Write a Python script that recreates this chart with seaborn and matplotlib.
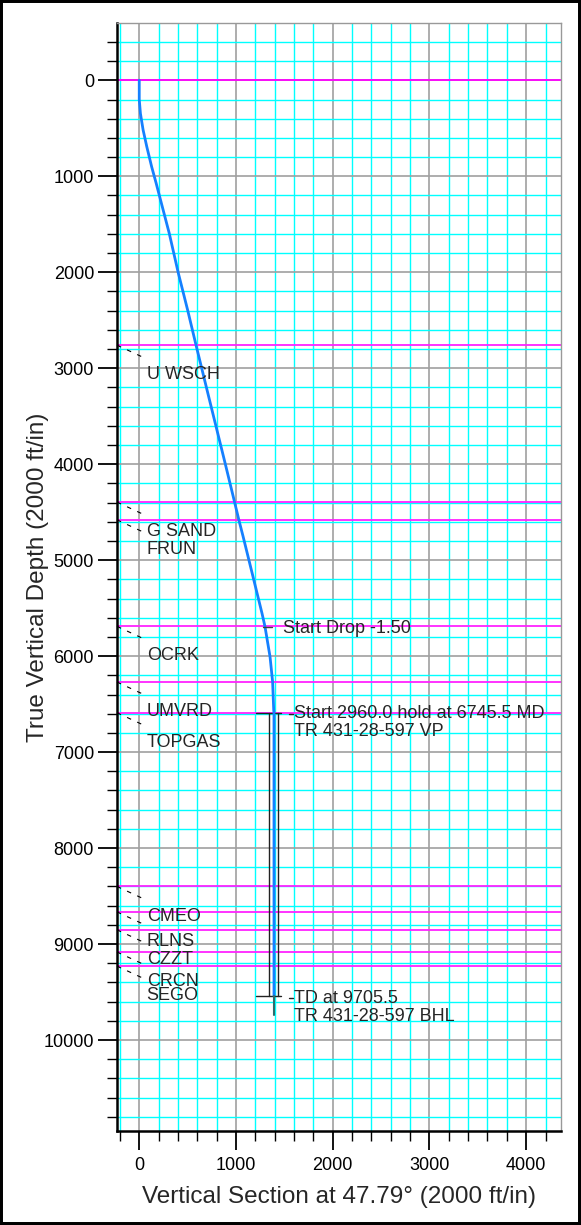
import matplotlib
matplotlib.use("Agg")
import matplotlib.pyplot as plt
import seaborn as sns
import numpy as np
import pandas as pd
from matplotlib.ticker import MultipleLocator
from matplotlib.patches import Rectangle

sns.set_style("white")
plt.rcParams['font.family'] = ['Liberation Sans', 'DejaVu Sans']

# ---------------- data ----------------
well_vs = [0, 0, 12, 40, 78, 128, 175, 220, 310, 403, 500, 591, 718, 803, 888, 972,
           1030, 1074, 1176, 1269, 1300, 1352, 1379, 1390, 1393, 1393]
well_tvd = [0, 200, 345, 518, 692, 900, 1073, 1247, 1594, 2005, 2393, 2776, 3297, 3644,
            3991, 4339, 4582, 4755, 5172, 5554, 5693, 6006, 6270, 6562, 6590, 9540]

formation_names = ['U WSCH', 'G SAND', 'FRUN', 'OCRK', 'UMVRD', 'TOPGAS',
                   'CMEO', 'RLNS', 'CZZT', 'CRCN', 'SEGO']
formation_tvd = [2760, 4395, 4580, 5690, 6270, 6590, 8400, 8665, 8852, 9083, 9230]
reference_tvd = [0]

drop_label = 'Start Drop -1.50'
drop_vs, drop_tvd = 1300, 5693

hold_label = 'Start 2960.0 hold at 6745.5 MD'
td_label = 'TD at 9705.5'
target_names = ['TR 431-28-597 VP', 'TR 431-28-597 BHL']
target_tvd = [6590, 9540]
target_vs_min, target_vs_max = 1206, 1466
target_side_vs = [1341, 1437]
td_extension_tvd = [9540, 9740]
td_vs = 1393

x_ticks = [0, 1000, 2000, 3000, 4000]
y_ticks = list(range(0, 10001, 1000))

# ---------------- figure ----------------
W, H = 581, 1225
fig = plt.figure(figsize=(W / 100, H / 100), dpi=100)
ax_l, ax_r, ax_t, ax_b = 117, 561, 23.3, 1131
ax = fig.add_axes([ax_l / W, 1 - ax_b / H, (ax_r - ax_l) / W, (ax_b - ax_t) / H])

xmin, xmax = -230, 4360
ymin, ymax = -594, 10948

ax.xaxis.set_major_locator(MultipleLocator(1000))
ax.xaxis.set_minor_locator(MultipleLocator(200))
ax.yaxis.set_major_locator(MultipleLocator(1000))
ax.yaxis.set_minor_locator(MultipleLocator(200))
ax.grid(which='minor', color='#00FFFF', lw=1.0, zorder=0)
ax.grid(which='major', color='#A0A0A0', lw=1.2, zorder=0)
ax.set_axisbelow(True)

# formation / reference lines
for d in reference_tvd:
    ax.axhline(d, color='#FF00FF', lw=1.3, zorder=2)
for d in formation_tvd:
    ax.axhline(d, color='#FF22FF', lw=1.3, zorder=2)

# well path
sns.lineplot(x=well_vs, y=well_tvd, sort=False, estimator=None, color='#1580FF',
             lw=2.0, ax=ax, zorder=5)
ax.plot([td_vs, td_vs], td_extension_tvd, color='#2E6B6B', lw=1.5, zorder=5)

# target lines
for t in target_tvd:
    ax.plot([target_vs_min, target_vs_max], [t, t], color='#222222', lw=1.0, zorder=4)
for s in target_side_vs:
    ax.plot([s, s], [target_tvd[0], target_tvd[1]], color='#222222', lw=1.0, zorder=4)

# formation labels with dashed leaders
for name, d in zip(formation_names, formation_tvd):
    ax.plot([xmin, xmin + 310], [d, d + 145], color='black', lw=0.8,
            ls=(0, (4, 6)), zorder=6, clip_on=False)
    ax.text(77, d + 355, name, fontsize=13, va='baseline', ha='left', zorder=7)

# annotations
ax.plot([drop_vs - 21, drop_vs + 72], [drop_tvd, drop_tvd], color='#404040', lw=1.0, zorder=6)
ax.text(1486, drop_tvd + 69, drop_label, fontsize=13, va='baseline', zorder=7)

ax.plot([1547, 1590], [target_tvd[0] + 10, target_tvd[0] + 10], color='#222222', lw=1.0, zorder=6)
ax.text(1600, target_tvd[0] + 57, hold_label, fontsize=13, va='baseline', zorder=7)
ax.text(1600, target_tvd[0] + 239, target_names[0], fontsize=13, va='baseline', zorder=7)

ax.plot([1547, 1590], [target_tvd[1] + 25, target_tvd[1] + 25], color='#222222', lw=1.0, zorder=6)
ax.text(1600, target_tvd[1] + 71, td_label, fontsize=13, va='baseline', zorder=7)
ax.text(1600, target_tvd[1] + 259, target_names[1], fontsize=13, va='baseline', zorder=7)

ax.set_xlim(xmin, xmax)
ax.set_ylim(ymax, ymin)
ax.set_xticks(x_ticks)
ax.set_yticks(y_ticks)
ax.set_xticklabels([str(v) for v in x_ticks])
ax.set_yticklabels([str(v) for v in y_ticks])

ax.tick_params(which='major', length=14, width=1.3, labelsize=13, direction='out',
               color='black', labelcolor='black')
ax.tick_params(which='minor', length=7, width=1.0, direction='out', color='black')
ax.tick_params(axis='x', which='major', pad=4.5)
ax.tick_params(axis='y', which='major', pad=2.5)
ax.tick_params(top=False, right=False, left=True, bottom=True, which='both')

for side in ['left', 'bottom']:
    ax.spines[side].set_color('black')
    ax.spines[side].set_linewidth(1.8)
for side in ['top', 'right']:
    ax.spines[side].set_color('#999999')
    ax.spines[side].set_linewidth(1.0)

ax.set_xlabel('Vertical Section at 47.79° (2000 ft/in)', fontsize=17.5)
ax.set_ylabel('True Vertical Depth (2000 ft/in)', fontsize=17.5)
ax.xaxis.set_label_coords(0.5, -0.0497)
ax.yaxis.set_label_coords(-0.153, 0.5)

fig.add_artist(Rectangle((0, 0), 1, 1, transform=fig.transFigure, fill=False,
                         edgecolor='black', lw=4.3))

fig.savefig('out.png', dpi=100)
